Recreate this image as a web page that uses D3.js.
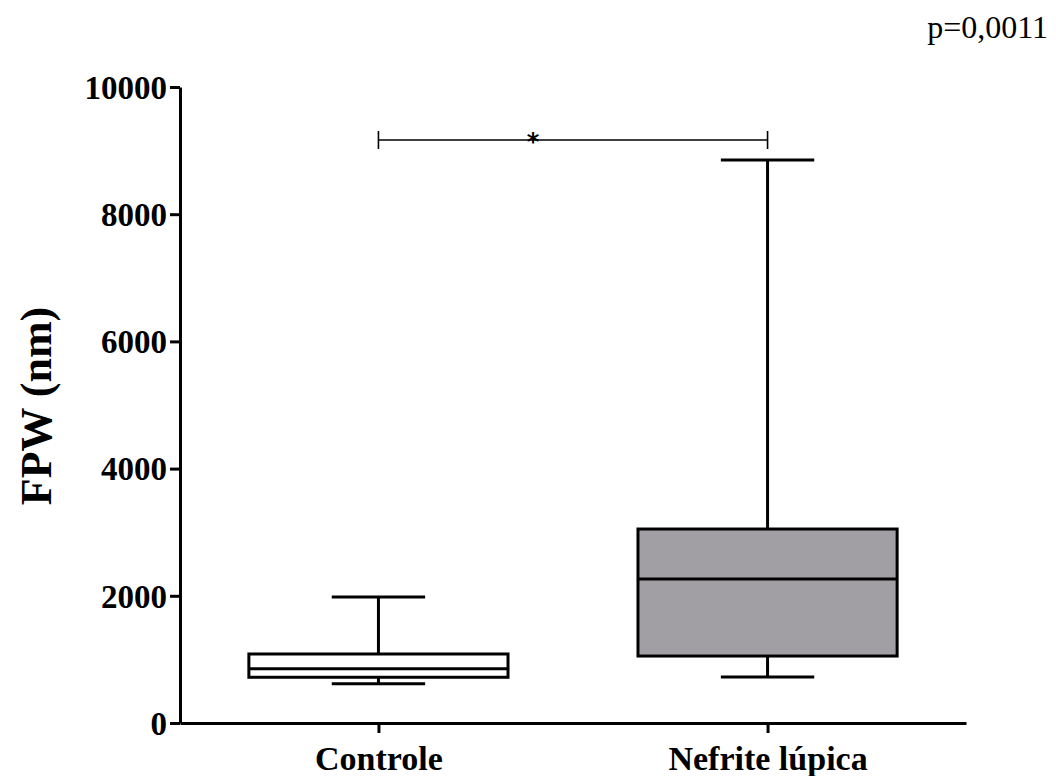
<!DOCTYPE html>
<html>
<head>
<meta charset="utf-8">
<script src="https://cdn.jsdelivr.net/npm/d3@7"></script>
<style>
  html, body { margin: 0; padding: 0; background: #ffffff; }
  svg { display: block; }
</style>
</head>
<body>
<svg id="chart" width="1056" height="776"></svg>
<script>
// Foot process width per group (box plot summary)
const categories = ["Controle", "Nefrite lúpica"];
const mins    = [618, 723];
const q1s     = [719, 1053];
const medians = [854, 2264];
const q3s     = [1085, 3050];
const maxs    = [1980, 8852];
const fills   = ["#ffffff", "#a19fa4"];

const yTicks = [0, 2000, 4000, 6000, 8000, 10000];
const bracketValue = 9167;
const pText = "p=0,0011";
const yTitle = "FPW (nm)";

const svg = d3.select("#chart");
const serif = "'Liberation Serif', 'Times New Roman', serif";

const x0 = 180, x1 = 966, yBottom = 723, yTop = 87;

const y = d3.scaleLinear().domain([0, 10000]).range([yBottom, yTop]);
const x = d3.scalePoint().domain(categories).range([x0, x1]).padding(0.51);
const step = x.step();
const boxW = step * 0.666;
const capW = step * 0.24;

// Y axis
const yAxis = svg.append("g")
  .attr("transform", `translate(${x0},0)`)
  .call(d3.axisLeft(y).tickValues(yTicks).tickSize(10).tickSizeOuter(0).tickPadding(3).tickFormat(d3.format("d")));
yAxis.select(".domain").attr("stroke", "#000").attr("stroke-width", 3);
yAxis.selectAll(".tick line").attr("stroke", "#000").attr("stroke-width", 3);
yAxis.selectAll(".tick text")
  .attr("font-family", serif).attr("font-weight", "bold").attr("font-size", 33)
  .attr("fill", "#000").attr("dy", "0.34em");

// X axis
const xAxis = svg.append("g")
  .attr("transform", `translate(0,${yBottom})`)
  .call(d3.axisBottom(x).tickSize(10).tickSizeOuter(0).tickPadding(6));
xAxis.select(".domain").attr("stroke", "#000").attr("stroke-width", 3);
xAxis.selectAll(".tick line").attr("stroke", "#000").attr("stroke-width", 3);
xAxis.selectAll(".tick text")
  .attr("font-family", serif).attr("font-weight", "bold").attr("font-size", 34)
  .attr("fill", "#000").attr("dy", "0.9em");

// Boxes and whiskers
const groups = svg.append("g").selectAll("g.box")
  .data(categories.map((c, i) => ({ c, i })))
  .join("g").attr("class", "box");

groups.each(function (d) {
  const g = d3.select(this);
  const cx = x(d.c);
  const lw = 3;
  // upper whisker
  g.append("line").attr("x1", cx).attr("x2", cx)
    .attr("y1", y(maxs[d.i])).attr("y2", y(q3s[d.i]))
    .attr("stroke", "#000").attr("stroke-width", lw);
  g.append("line").attr("x1", cx - capW / 2).attr("x2", cx + capW / 2)
    .attr("y1", y(maxs[d.i])).attr("y2", y(maxs[d.i]))
    .attr("stroke", "#000").attr("stroke-width", lw);
  // lower whisker
  g.append("line").attr("x1", cx).attr("x2", cx)
    .attr("y1", y(q1s[d.i])).attr("y2", y(mins[d.i]))
    .attr("stroke", "#000").attr("stroke-width", lw);
  g.append("line").attr("x1", cx - capW / 2).attr("x2", cx + capW / 2)
    .attr("y1", y(mins[d.i])).attr("y2", y(mins[d.i]))
    .attr("stroke", "#000").attr("stroke-width", lw);
  // box
  g.append("rect")
    .attr("x", cx - boxW / 2).attr("width", boxW)
    .attr("y", y(q3s[d.i])).attr("height", y(q1s[d.i]) - y(q3s[d.i]))
    .attr("fill", fills[d.i]).attr("stroke", "#000").attr("stroke-width", lw);
  // median
  g.append("line").attr("x1", cx - boxW / 2).attr("x2", cx + boxW / 2)
    .attr("y1", y(medians[d.i])).attr("y2", y(medians[d.i]))
    .attr("stroke", "#000").attr("stroke-width", lw);
});

// Significance bracket
const by = y(bracketValue);
const bx1 = x(categories[0]), bx2 = x(categories[1]);
const br = svg.append("g").attr("stroke", "#000").attr("stroke-width", 1.6);
br.append("line").attr("x1", bx1).attr("x2", bx2).attr("y1", by).attr("y2", by);
br.append("line").attr("x1", bx1).attr("x2", bx1).attr("y1", by - 9).attr("y2", by + 9);
br.append("line").attr("x1", bx2).attr("x2", bx2).attr("y1", by - 9).attr("y2", by + 9);
svg.append("text")
  .attr("x", (bx1 + bx2) / 2 - 40).attr("y", by + 10)
  .attr("text-anchor", "middle")
  .attr("font-family", "'DejaVu Sans', sans-serif").attr("font-weight", "bold")
  .attr("font-size", 24).text("*");

// Y axis title
svg.append("text")
  .attr("transform", `translate(51,${(yTop + yBottom) / 2 + 1}) rotate(-90)`)
  .attr("text-anchor", "middle")
  .attr("font-family", serif).attr("font-weight", "bold").attr("font-size", 44)
  .text(yTitle);

// p-value
svg.append("text")
  .attr("x", 1048).attr("y", 38)
  .attr("text-anchor", "end")
  .attr("font-family", serif).attr("font-size", 32)
  .text(pText);
</script>
</body>
</html>
